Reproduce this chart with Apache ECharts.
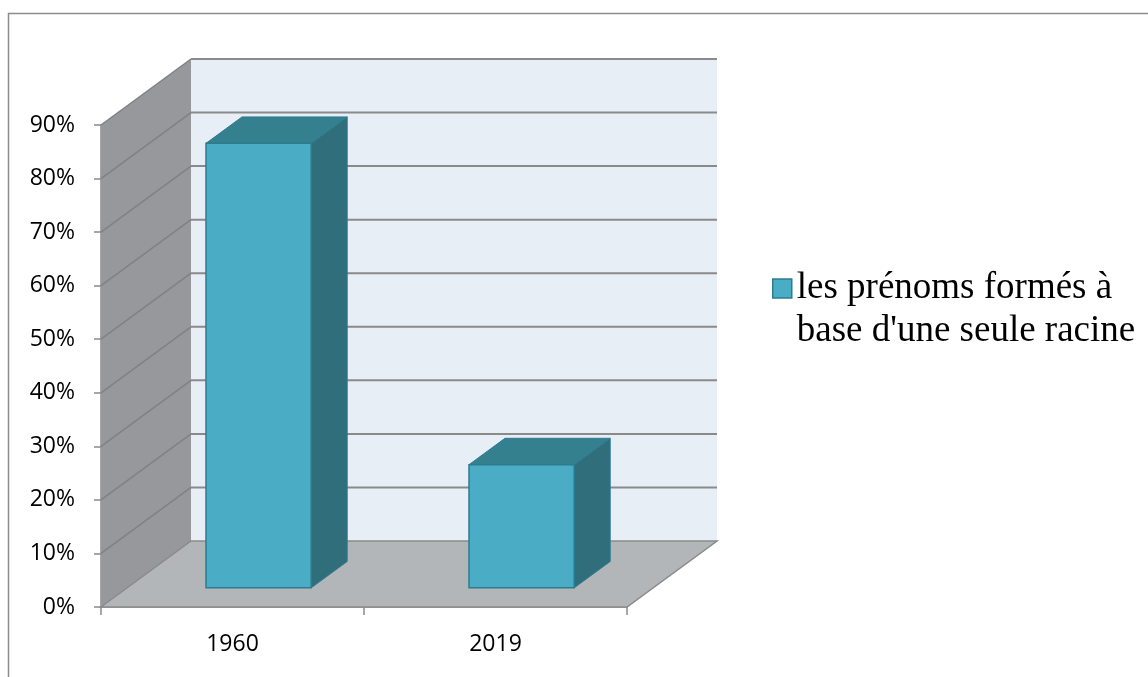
<!DOCTYPE html>
<html><head><meta charset="utf-8">
<script src="https://cdn.jsdelivr.net/npm/echarts@6/dist/echarts.min.js"></script>
<style>html,body{margin:0;padding:0;background:#fff}#c{width:1148px;height:677px}</style>
</head><body><div id="c"></div>
<script>
// ---- data ----
const categories = ['1960', '2019'];
const seriesName = "les prénoms formés à\nbase d'une seule racine";
const values = [83, 23];
const yMin = 0, yMax = 90, yInterval = 10;
const yLabelSuffix = '%';

// ---- 3D look (layout constants) ----
const DX = 90, DY = -66;            // depth offset of back wall, px
const BAR_D0 = 0.29, BAR_D1 = 0.69;  // bar depth span (fraction of depth)
const BAR_W = 0.40;                  // bar width (fraction of band)

function wallRender(params, api) {
  const cs = params.coordSys;
  const x0 = cs.x, x1 = cs.x + cs.width;
  const yB = api.coord([0, yMin])[1];
  const yT = api.coord([0, yMax])[1];
  const ch = [];
  ch.push({type: 'polygon', shape: {points: [[x0 + DX, yT + DY], [x1 + DX, yT + DY], [x1 + DX, yB + DY], [x0 + DX, yB + DY]]},
    style: {fill: '#E8EEF6'}});
  ch.push({type: 'polygon', shape: {points: [[x0, yT], [x0 + DX, yT + DY], [x0 + DX, yB + DY], [x0, yB]]},
    style: {fill: '#96989C'}});
  ch.push({type: 'polygon', shape: {points: [[x0, yB], [x0 + DX, yB + DY], [x1 + DX, yB + DY], [x1, yB]]},
    style: {fill: '#B3B6B9', stroke: '#8A8A8A', lineWidth: 1.5}});
  for (let v = yMin + yInterval; v <= yMax; v += yInterval) {
    const y = api.coord([0, v])[1];
    ch.push({type: 'polyline', shape: {points: [[x0, y], [x0 + DX, y + DY]]},
      style: {stroke: '#7F8184', lineWidth: 1.5, fill: null}});
    ch.push({type: 'polyline', shape: {points: [[x0 + DX, y + DY], [x1 + DX, y + DY]]},
      style: {stroke: '#8A8A8A', lineWidth: 2, fill: null}});
  }
  return {type: 'group', children: ch};
}

function barRender(params, api) {
  const ci = api.value(0), v = api.value(1);
  const top = api.coord([ci, v]);
  const base = api.coord([ci, 0]);
  const band = api.size([1, 0])[0];
  const w = band * BAR_W;
  const fx = top[0] - w / 2 + DX * BAR_D0;
  const fyT = top[1] + DY * BAR_D0;
  const fyB = base[1] + DY * BAR_D0;
  const ddx = DX * (BAR_D1 - BAR_D0), ddy = DY * (BAR_D1 - BAR_D0);
  const stroke = '#2C7C90';
  return {type: 'group', children: [
    {type: 'polygon', shape: {points: [[fx + w, fyT], [fx + w + ddx, fyT + ddy], [fx + w + ddx, fyB + ddy], [fx + w, fyB]]},
      style: {fill: '#306E7C', stroke: stroke, lineWidth: 1}},
    {type: 'polygon', shape: {points: [[fx, fyT], [fx + ddx, fyT + ddy], [fx + w + ddx, fyT + ddy], [fx + w, fyT]]},
      style: {fill: '#35808F', stroke: stroke, lineWidth: 1}},
    {type: 'rect', shape: {x: fx, y: fyT, width: w, height: fyB - fyT},
      style: {fill: '#4BACC6', stroke: stroke, lineWidth: 1.5}}
  ]};
}

const chart = echarts.init(document.getElementById('c'), null, {renderer: 'canvas'});
chart.setOption({
  backgroundColor: '#ffffff',
  animation: false,
  graphic: [{type: 'rect', shape: {x: 8.5, y: 13.5, width: 1300, height: 800},
    style: {fill: null, stroke: '#8C8C8C', lineWidth: 1.5}, z: 0}],
  grid: {left: 101, top: 125, width: 526, height: 482},
  legend: {
    data: [seriesName],
    left: 767, top: 219,
    icon: 'rect', itemWidth: 19, itemHeight: 19, itemGap: 5,
    itemStyle: {color: '#4BACC6', borderColor: '#2C7C90', borderWidth: 1.5},
    formatter: name => ' \n' + name,
    textStyle: {fontFamily: '"Liberation Serif", "Times New Roman", serif', fontSize: 37, lineHeight: 43,
      color: '#000'}
  },
  xAxis: {
    type: 'category', data: categories,
    axisLine: {show: true, lineStyle: {color: '#8A8A8A', width: 1.5}},
    axisTick: {show: true, length: 8, lineStyle: {color: '#8A8A8A', width: 1.5}},
    axisLabel: {margin: 26, color: '#000', fontSize: 23, fontFamily: '"Open Sans", sans-serif'},
    splitLine: {show: false}
  },
  yAxis: {
    type: 'value', min: yMin, max: yMax, interval: yInterval,
    axisLine: {show: true, lineStyle: {color: '#8A8A8A', width: 1.5}},
    axisTick: {show: true, length: 7, lineStyle: {color: '#8A8A8A', width: 1.5}},
    axisLabel: {margin: 26, color: '#000', fontSize: 23, fontFamily: '"Open Sans", sans-serif',
      formatter: v => v + yLabelSuffix},
    splitLine: {show: false}
  },
  series: [
    {type: 'custom', name: '_walls', renderItem: wallRender, data: [[0, 0]], z: 1, silent: true,
      encode: {x: 0, y: 1}},
    {type: 'custom', name: seriesName, renderItem: barRender, z: 3,
      itemStyle: {color: '#4BACC6', borderColor: '#2C7C90'},
      encode: {x: 0, y: 1},
      data: values.map((v, i) => [i, v])}
  ]
});
</script></body></html>
